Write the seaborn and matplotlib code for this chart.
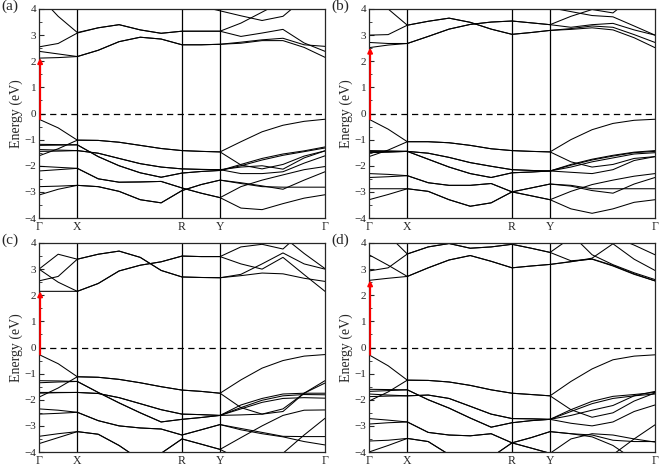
import numpy as np
import pandas as pd
import matplotlib
matplotlib.use("Agg")
import matplotlib.pyplot as plt
from matplotlib.ticker import MultipleLocator
import seaborn as sns

N = np.nan

# k-path sample points: G, ., X, ., ., ., ., R, ., Y, ., ., ., ., G
k_path = [0.0, 0.067, 0.134, 0.207, 0.28, 0.354, 0.427, 0.5, 0.567, 0.633,
          0.706, 0.78, 0.853, 0.927, 1.0]
sym_pos = [0.0, 0.134, 0.5, 0.633, 1.0]
sym_labels = ['Γ', 'X', 'R', 'Y', 'Γ']
panel_labels = ['(a)', '(b)', '(c)', '(d)']

# ---- panel (a) ----
cond_a = [
    [2.12, 2.14, 2.18, 2.42, 2.75, 2.92, 2.85, 2.63, 2.63, 2.65, 2.69, 2.79, 2.79, 2.53, 2.15],
    [2.38, 2.28, 2.18, 2.42, 2.75, 2.92, 2.85, 2.63, 2.63, 2.65, 2.73, 2.82, 2.88, 2.63, 2.57],
    [2.55, 2.68, 3.08, 3.28, 3.4, 3.2, 3.07, 3.15, 3.15, 3.15, 2.95, 3.08, 3.22, 2.7, 2.38],
    [4.5, 3.72, 3.1, 3.28, 3.4, 3.2, 3.07, 3.15, 3.15, 3.15, 3.46, 3.88, 4.3, N, N],
    [N, N, N, N, N, N, N, 4.3, 4.1, 3.93, 3.74, 3.56, 3.72, 4.4, N],
]
val_a = [
    [-0.22, -0.55, -1.02, -1.03, -1.1, -1.22, -1.34, -1.42, -1.45, -1.47, -1.08, -0.7, -0.45, -0.3, -0.22],
    [-1.62, -1.35, -1.02, -1.03, -1.1, -1.22, -1.34, -1.42, -1.45, -1.47, -1.97, -2.12, -1.95, -1.63, -1.43],
    [-1.18, -1.19, -1.2, -1.65, -2.0, -2.27, -2.44, -2.28, -2.22, -2.18, -1.95, -1.72, -1.55, -1.43, -1.28],
    [-1.22, -1.21, -1.2, -1.65, -2.0, -2.27, -2.44, -2.28, -2.22, -2.18, -2.0, -1.78, -1.6, -1.46, -1.32],
    [-1.38, -1.4, -1.42, -1.52, -1.72, -1.92, -2.05, -2.12, -2.14, -2.15, -2.05, -2.0, -2.13, -1.7, -1.43],
    [-1.45, -1.44, -1.42, -1.52, -1.72, -1.92, -2.05, -2.12, -2.14, -2.15, -2.3, -2.3, -2.23, -1.9, -1.62],
    [-2.02, -2.06, -2.1, -2.5, -2.63, -2.62, -2.6, -2.85, -3.05, -3.22, -2.8, -2.55, -2.35, -2.15, -2.03],
    [-2.2, -2.15, -2.1, -2.5, -2.63, -2.62, -2.6, -2.85, -3.05, -3.22, -3.62, -3.68, -3.45, -3.24, -3.11],
    [-2.8, -2.78, -2.75, -2.8, -2.98, -3.3, -3.42, -2.95, -2.72, -2.55, -2.65, -2.77, -2.9, -2.55, -2.23],
    [-3.12, -2.9, -2.75, -2.8, -2.98, -3.3, -3.42, -2.95, -2.72, -2.55, -2.68, -2.8, -2.82, -2.82, -2.82],
]

# ---- panel (b) ----
cond_b = [
    [2.52, 2.62, 2.68, 2.95, 3.23, 3.41, 3.5, 3.54, 3.47, 3.4, 3.3, 3.4, 3.45, 3.2, 3.0],
    [2.72, 2.68, 2.68, 2.95, 3.23, 3.41, 3.5, 3.54, 3.47, 3.4, 3.72, 3.98, 3.85, 4.5, N],
    [3.0, 3.02, 3.38, 3.53, 3.65, 3.49, 3.23, 3.03, 3.1, 3.18, 3.22, 3.28, 3.2, 2.9, 2.52],
    [4.8, 4.0, 3.38, 3.53, 3.65, 3.49, 3.23, 3.03, 3.1, 3.18, 3.25, 3.35, 3.3, 3.02, 2.72],
    [N, N, N, N, N, N, N, 4.3, 4.2, 4.05, 3.9, 3.75, 3.7, 3.35, 3.0],
]
val_b = [
    [-0.22, -0.6, -1.08, -1.08, -1.12, -1.22, -1.35, -1.42, -1.45, -1.47, -1.0, -0.62, -0.38, -0.26, -0.22],
    [-1.65, -1.4, -1.08, -1.08, -1.12, -1.22, -1.35, -1.42, -1.45, -1.47, -1.85, -2.05, -1.95, -1.72, -1.65],
    [-1.42, -1.43, -1.45, -1.75, -2.05, -2.3, -2.45, -2.27, -2.24, -2.2, -1.95, -1.75, -1.6, -1.48, -1.42],
    [-1.45, -1.45, -1.45, -1.75, -2.05, -2.3, -2.45, -2.27, -2.24, -2.2, -1.98, -1.78, -1.63, -1.5, -1.45],
    [-1.48, -1.47, -1.45, -1.52, -1.68, -1.88, -2.02, -2.15, -2.18, -2.2, -2.05, -1.85, -1.7, -1.55, -1.5],
    [-1.5, -1.48, -1.45, -1.52, -1.68, -1.88, -2.02, -2.15, -2.18, -2.2, -2.25, -2.3, -2.15, -1.8, -1.65],
    [-2.3, -2.33, -2.38, -2.65, -2.75, -2.75, -2.68, -3.0, -3.15, -3.3, -2.98, -2.72, -2.55, -2.4, -2.3],
    [-2.45, -2.42, -2.38, -2.65, -2.75, -2.75, -2.68, -3.0, -3.15, -3.3, -3.65, -3.82, -3.65, -3.4, -3.3],
    [-2.88, -2.88, -2.88, -2.98, -3.3, -3.55, -3.42, -3.0, -2.85, -2.7, -2.78, -2.95, -3.05, -2.7, -2.45],
    [-3.3, -3.1, -2.88, -2.98, -3.3, -3.55, -3.42, -3.0, -2.85, -2.7, -2.75, -2.88, -2.88, -2.88, -2.88],
]

# ---- panel (c) ----
cond_c = [
    [2.15, 2.15, 2.15, 2.45, 2.93, 3.15, 3.28, 3.5, 3.48, 3.48, 3.85, 3.95, 3.77, 4.5, N],
    [3.0, 2.5, 2.15, 2.45, 2.93, 3.15, 3.28, 3.5, 3.48, 3.48, 3.2, 3.0, 3.45, 2.79, 2.15],
    [2.55, 2.72, 3.38, 3.57, 3.69, 3.45, 2.95, 2.7, 2.68, 2.67, 2.75, 2.85, 2.82, 2.65, 2.53],
    [3.0, 3.57, 3.38, 3.57, 3.69, 3.45, 2.95, 2.7, 2.68, 2.67, 2.8, 3.2, 3.62, 3.2, 3.0],
    [N, N, N, N, N, N, N, N, N, N, N, N, 4.25, 3.6, 3.02],
]
val_c = [
    [-0.27, -0.62, -1.12, -1.14, -1.22, -1.35, -1.5, -1.63, -1.68, -1.75, -1.24, -0.79, -0.5, -0.33, -0.27],
    [-1.9, -1.55, -1.12, -1.14, -1.22, -1.35, -1.5, -1.63, -1.68, -1.75, -2.3, -2.55, -2.35, -1.75, -1.36],
    [-1.27, -1.28, -1.3, -1.72, -2.12, -2.5, -2.85, -2.75, -2.68, -2.6, -2.2, -1.95, -1.78, -1.75, -1.75],
    [-1.35, -1.32, -1.3, -1.72, -2.12, -2.5, -2.85, -2.75, -2.68, -2.6, -2.3, -2.02, -1.85, -1.8, -1.81],
    [-1.72, -1.72, -1.72, -1.76, -1.92, -2.15, -2.38, -2.55, -2.57, -2.6, -2.35, -2.1, -1.95, -1.92, -1.94],
    [-1.75, -1.73, -1.72, -1.76, -1.92, -2.15, -2.38, -2.55, -2.57, -2.6, -2.58, -2.55, -2.45, -1.75, -1.27],
    [-2.35, -2.4, -2.48, -2.8, -3.0, -3.08, -3.12, -3.35, -3.15, -2.95, -3.1, -3.25, -3.4, -3.41, -3.41],
    [-2.55, -2.52, -2.48, -2.8, -3.0, -3.08, -3.12, -3.35, -3.15, -2.95, -3.15, -3.3, -3.42, -3.6, -3.73],
    [-3.4, -3.3, -3.22, -3.32, -3.75, -4.3, -4.05, -3.5, -3.7, -3.9, -3.45, -3.0, -2.6, -2.4, -2.39],
    [-3.68, -3.45, -3.22, -3.32, -3.75, -4.3, -4.05, -3.5, -3.7, -3.9, -4.3, N, -4.05, -3.35, -2.71],
]

# ---- panel (d) ----
cond_d = [
    [2.57, 2.65, 2.72, 3.05, 3.35, 3.52, 3.3, 3.05, 3.12, 3.18, 3.29, 3.39, 3.14, 2.82, 2.55],
    [3.55, 3.15, 2.72, 3.05, 3.35, 3.52, 3.3, 3.05, 3.12, 3.18, 3.28, 3.42, 3.97, 3.38, 2.95],
    [2.93, 3.05, 3.58, 3.85, 3.98, 3.8, 3.85, 3.95, 3.8, 3.64, 3.32, 3.38, 3.12, 2.8, 2.55],
    [5.0, 4.3, 3.58, 3.85, 3.98, 3.8, 3.85, 3.95, 3.8, 3.64, 4.2, N, N, N, N],
    [N, N, N, N, N, N, N, N, N, N, 4.35, 3.55, 3.17, 2.86, 2.6],
    [N, N, N, N, N, N, N, N, N, N, N, N, 4.25, 3.92, 3.55],
]
val_d = [
    [-0.28, -0.7, -1.25, -1.26, -1.32, -1.45, -1.62, -1.75, -1.8, -1.85, -1.3, -0.82, -0.47, -0.33, -0.28],
    [-2.05, -1.7, -1.25, -1.26, -1.32, -1.45, -1.62, -1.75, -1.8, -1.85, -2.38, -2.67, -2.5, -2.05, -1.74],
    [-1.6, -1.61, -1.62, -2.0, -2.32, -2.7, -3.05, -2.88, -2.8, -2.75, -2.38, -2.06, -1.87, -1.8, -1.72],
    [-1.68, -1.65, -1.62, -2.0, -2.32, -2.7, -3.05, -2.88, -2.8, -2.75, -2.6, -2.4, -2.22, -1.85, -1.68],
    [-1.78, -1.82, -1.85, -1.82, -1.95, -2.25, -2.55, -2.72, -2.73, -2.75, -2.45, -2.15, -1.95, -1.85, -1.78],
    [-1.88, -1.86, -1.85, -1.82, -1.95, -2.25, -2.55, -2.72, -2.73, -2.75, -2.9, -3.0, -2.85, -2.45, -2.2],
    [-2.72, -2.78, -2.85, -3.25, -3.35, -3.38, -3.3, -3.65, -3.45, -3.22, -3.3, -3.42, -3.75, -4.3, N],
    [-2.93, -2.88, -2.85, -3.25, -3.35, -3.38, -3.3, -3.65, -3.45, -3.22, -3.3, -3.35, -3.55, -3.6, -3.6],
    [-3.58, -3.55, -3.48, -3.6, -4.1, -4.5, -4.2, -3.65, -3.85, -4.05, -3.5, -3.3, -3.35, -3.5, -3.62],
    [-4.0, -3.75, -3.48, -3.6, -4.1, -4.5, -4.2, -3.65, -3.85, -4.05, -4.4, N, -4.1, -3.5, -2.96],
]

panels = [(cond_a, val_a), (cond_b, val_b), (cond_c, val_c), (cond_d, val_d)]


def band_frame(bands):
    # split each band at NaN gaps so every run is drawn as its own line
    rows = []
    seg = 0
    for band in bands:
        for k, e in zip(k_path, band):
            if np.isnan(e):
                seg += 1
                continue
            rows.append((k, e, seg))
        seg += 1
    return pd.DataFrame(rows, columns=['k', 'E', 'seg'])


sns.set_style('ticks')
plt.rcParams['font.family'] = 'serif'
plt.rcParams['font.serif'] = ['Liberation Serif', 'DejaVu Serif']
plt.rcParams['axes.linewidth'] = 0.9

fig = plt.figure(figsize=(6.6, 4.68), dpi=100)
boxes = [
    [39 / 660, 1 - 218 / 468, 286 / 660, 209 / 468],
    [369 / 660, 1 - 218 / 468, 286 / 660, 209 / 468],
    [39 / 660, 1 - 452 / 468, 286 / 660, 209 / 468],
    [369 / 660, 1 - 452 / 468, 286 / 660, 209 / 468],
]

for i, (cond, val) in enumerate(panels):
    ax = fig.add_axes(boxes[i])
    df = band_frame(cond + val)
    sns.lineplot(data=df, x='k', y='E', units='seg', estimator=None, sort=False,
                 color='black', linewidth=0.75, ax=ax, legend=False)
    for p in sym_pos[1:-1]:
        ax.axvline(p, color='black', lw=0.9)
    ax.axhline(0, color='black', lw=0.9, ls=(0, (5, 3.5)))

    cbm = min(b[0] for b in cond)
    vbm = max(b[0] for b in val)
    ax.annotate('', xy=(0.004, cbm), xytext=(0.004, vbm),
                arrowprops=dict(arrowstyle='-|>', color='red', lw=1.4,
                                mutation_scale=7, shrinkA=0, shrinkB=0),
                annotation_clip=False)

    ax.set_xlim(0, 1)
    ax.set_ylim(-4, 4)
    ax.set_yticks(range(-4, 5))
    ax.yaxis.set_minor_locator(MultipleLocator(0.5))
    ax.set_xticks(sym_pos)
    ax.set_xticklabels(sym_labels)
    ax.tick_params(axis='x', length=0, pad=2, labelsize=8.5)
    ax.tick_params(axis='y', which='major', direction='in', length=3.5, width=0.8,
                   labelsize=8, pad=2)
    ax.tick_params(axis='y', which='minor', direction='in', length=2, width=0.6)
    ax.set_xlabel('')
    ax.set_ylabel('Energy (eV)', fontsize=10, labelpad=1)
    for s in ax.spines.values():
        s.set_visible(True)
        s.set_linewidth(0.9)

    x0 = boxes[i][0] - 38 / 660
    y1 = boxes[i][1] + boxes[i][3] + 9.5 / 468
    fig.text(x0, y1, panel_labels[i], fontsize=11, ha='left', va='top')

fig.savefig('out.png', dpi=100)
